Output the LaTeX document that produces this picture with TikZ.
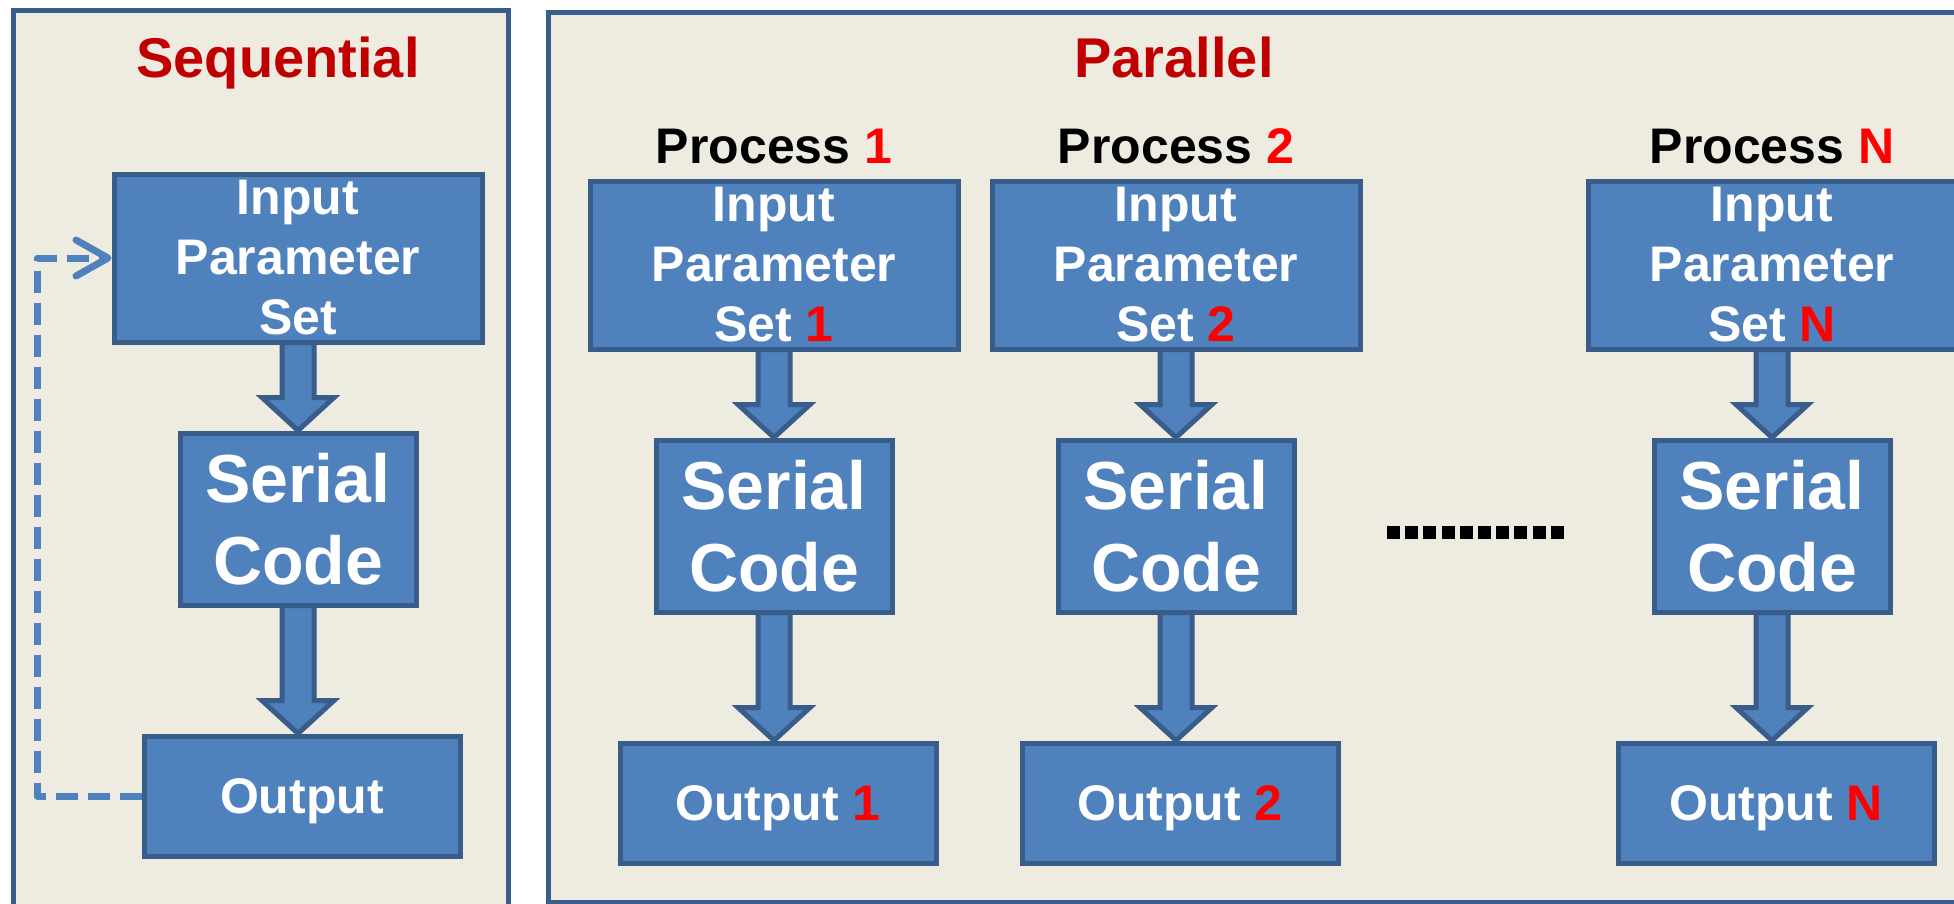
\documentclass[tikz,border=0pt]{standalone}
\usepackage{fontspec}
\setmainfont{Liberation Sans}
\usetikzlibrary{arrows.meta,positioning,calc}

\definecolor{boxblue}{HTML}{4F81BD}
\definecolor{boxedge}{HTML}{385D8A}
\definecolor{panelfill}{HTML}{EEECE1}
\definecolor{titlered}{HTML}{C00000}
\definecolor{numred}{HTML}{FF0000}

\newcommand{\procno}[1]{\textcolor{numred}{#1}}
% fat arrow from the bottom of #1 down to the top of #2
\newcommand{\blockarrow}[2]{%
  \draw[barrow] ($(#1.south)+(-16,-2)$) -- ($(#1.south |- #2.north)+(-16,-33)$) -- ++(-20,0)
    -- (#1.south |- #2.north) -- ($(#1.south |- #2.north)+(36,-33)$) -- ++(-20,0)
    -- ($(#1.south)+(16,-2)$) -- cycle;}

\begin{document}
\begin{tikzpicture}[x=0.5pt, y=-0.5pt, font=\bfseries,
  panel/.style={draw=boxedge, fill=panelfill, line width=2.5pt},
  title/.style={text=titlered, font=\bfseries\fontsize{28}{34}\selectfont, anchor=base, inner sep=0pt},
  proc/.style={font=\bfseries\fontsize{25}{30}\selectfont, inner sep=0pt},
  inbox/.style={draw=boxedge, fill=boxblue, line width=2.5pt, text=white, align=center, inner sep=0pt,
    minimum width=184pt, minimum height=84pt, font=\bfseries\fontsize{25}{30}\selectfont},
  serbox/.style={inbox, minimum width=118pt, minimum height=86pt, font=\bfseries\fontsize{34}{41}\selectfont},
  outbox/.style={inbox, minimum width=158pt, minimum height=60pt, xshift=2pt, text depth=0pt},
  barrow/.style={draw=boxedge, fill=boxblue, line width=2.5pt},
  feedback/.style={draw=boxblue, line width=3.5pt, dash pattern=on 11pt off 5pt, line join=round,
    -{Straight Barb[length=16pt, width=18pt, round]}},
  dotrow/.style={line width=6.5pt, dash pattern=on 6.5pt off 2.6pt}]
  \useasboundingbox (0,0) rectangle (1954,904);
  \clip (0,0) rectangle (1954,904);
  \draw[panel] (13,11) rectangle (508,920);
  \draw[panel] (548,13) rectangle (1975,902);
  \node[title] (seqtitle) at (278,78) {Sequential};
  \node[title] (partitle) at (1174,78) {Parallel};

  % sequential
  \node[inbox] (inp0) at (298,258) {Input\\Parameter\\Set};
  \node[serbox, below=43pt of inp0] (ser0) {Serial\\Code};
  \node[outbox, below=63pt of ser0] (out0) {Output};
  \blockarrow{inp0}{ser0}
  \blockarrow{ser0}{out0}
  \coordinate (loopx) at (37,0);
  \draw[feedback] (out0.west) -| (loopx |- inp0.west) -- (inp0.west);

  % parallel
  \node[inbox] (inp1) at (774,265) {Input\\Parameter\\Set \procno{1}};
  \node[serbox, below=43pt of inp1] (ser1) {Serial\\Code};
  \node[outbox, below=63pt of ser1] (out1) {Output \procno{1}};
  \node[proc, above=7pt of inp1] (proc1) {Process \procno{1}};
  \node[inbox] (inp2) at (1176,265) {Input\\Parameter\\Set \procno{2}};
  \node[serbox, below=43pt of inp2] (ser2) {Serial\\Code};
  \node[outbox, below=63pt of ser2] (out2) {Output \procno{2}};
  \node[proc, above=7pt of inp2] (proc2) {Process \procno{2}};
  \node[inbox] (inpN) at (1772,265) {Input\\Parameter\\Set \procno{N}};
  \node[serbox, below=43pt of inpN] (serN) {Serial\\Code};
  \node[outbox, below=63pt of serN] (outN) {Output \procno{N}};
  \node[proc, above=7pt of inpN] (procN) {Process \procno{N}};
  \blockarrow{inp1}{ser1}
  \blockarrow{ser1}{out1}
  \blockarrow{inp2}{ser2}
  \blockarrow{ser2}{out2}
  \blockarrow{inpN}{serN}
  \blockarrow{serN}{outN}

  \coordinate (dotsL) at (1387,532);
  \coordinate (dotsR) at (1564,532);
  \draw[dotrow] (dotsL) -- (dotsR);
\end{tikzpicture}
\end{document}
